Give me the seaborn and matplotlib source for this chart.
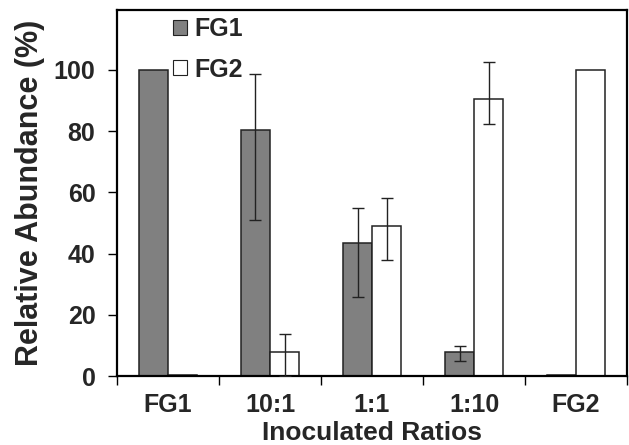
import numpy as np
import pandas as pd
import matplotlib
matplotlib.use("Agg")
import matplotlib.pyplot as plt
import seaborn as sns

# Relative abundance (%) of each group per inoculated ratio
ratios = ["FG1", "10:1", "1:1", "1:10", "FG2"]
fg1_mean = [100.0, 80.3, 43.6, 7.7, 0.3]
fg2_mean = [0.3, 7.7, 49.1, 90.5, 100.0]
# lower / upper error extents
fg1_err_lo = [0.0, 29.2, 17.9, 2.9, 0.0]
fg1_err_hi = [0.0, 18.4, 11.3, 2.1, 0.0]
fg2_err_lo = [0.0, 7.7, 11.3, 8.1, 0.0]
fg2_err_hi = [0.0, 5.9, 9.1, 12.0, 0.0]
groups = ["FG1", "FG2"]
y_ticks = [0, 20, 40, 60, 80, 100]

df = pd.DataFrame({
    "Ratio": ratios * 2,
    "Group": [groups[0]] * len(ratios) + [groups[1]] * len(ratios),
    "Abundance": fg1_mean + fg2_mean,
})

sns.set_theme(style="white")
plt.rcParams["font.family"] = ["Liberation Sans", "DejaVu Sans"]
plt.rcParams["font.weight"] = "bold"

fig = plt.figure(figsize=(6.29, 4.45), dpi=100)
ax = fig.add_axes([0.186, 0.155, 0.811, 0.822])

sns.barplot(data=df, x="Ratio", y="Abundance", hue="Group", order=ratios,
            hue_order=groups, palette={"FG1": "#808080", "FG2": "#ffffff"},
            width=0.57, edgecolor="#222222", linewidth=1.1, errorbar=None,
            saturation=1, ax=ax)

# asymmetric error bars at each bar centre
bars = list(ax.patches)[:2 * len(ratios)]
means = fg1_mean + fg2_mean
lo = fg1_err_lo + fg2_err_lo
hi = fg1_err_hi + fg2_err_hi
for bar, m, l, h in zip(bars, means, lo, hi):
    if l > 0 or h > 0:
        xc = bar.get_x() + bar.get_width() / 2
        ax.errorbar(xc, m, yerr=[[l], [h]], fmt="none", ecolor="#222222",
                    elinewidth=1.0, capsize=4.5, capthick=1.0, zorder=5)

ax.set_xlim(-0.5, len(ratios) - 0.5)
ax.set_ylim(0, 119.5)
ax.set_yticks(y_ticks)
ax.set_yticklabels([str(t) for t in y_ticks], fontsize=18, fontweight="bold")
ax.set_xticks(range(len(ratios)))
ax.set_xticklabels(ratios, fontsize=18, fontweight="bold")
ax.set_xticks(np.arange(-0.5, len(ratios)), minor=True)

ax.tick_params(axis="y", which="major", direction="out", length=6.5,
               width=1, color="black", pad=9, left=True)
ax.tick_params(axis="x", which="major", length=0, pad=12)
ax.tick_params(axis="x", which="minor", direction="out", length=6.5,
               width=1, color="black", bottom=True)

for s in ax.spines.values():
    s.set_visible(True)
    s.set_color("black")
    s.set_linewidth(1.6)

ax.set_xlabel("Inoculated Ratios", fontsize=19, fontweight="bold", labelpad=3)
ax.set_ylabel("Relative Abundance (%)", fontsize=22, fontweight="bold", labelpad=6)

leg = ax.legend(loc="upper left", bbox_to_anchor=(0.09, 1.008), frameon=False,
                fontsize=18, handlelength=0.55, handleheight=0.55,
                handletextpad=0.3, labelspacing=0.65, borderaxespad=0)
for t in leg.get_texts():
    t.set_fontweight("bold")
for h in leg.legend_handles:
    h.set_edgecolor("#222222")
    h.set_linewidth(0.8)

fig.savefig("out.png", dpi=100)
